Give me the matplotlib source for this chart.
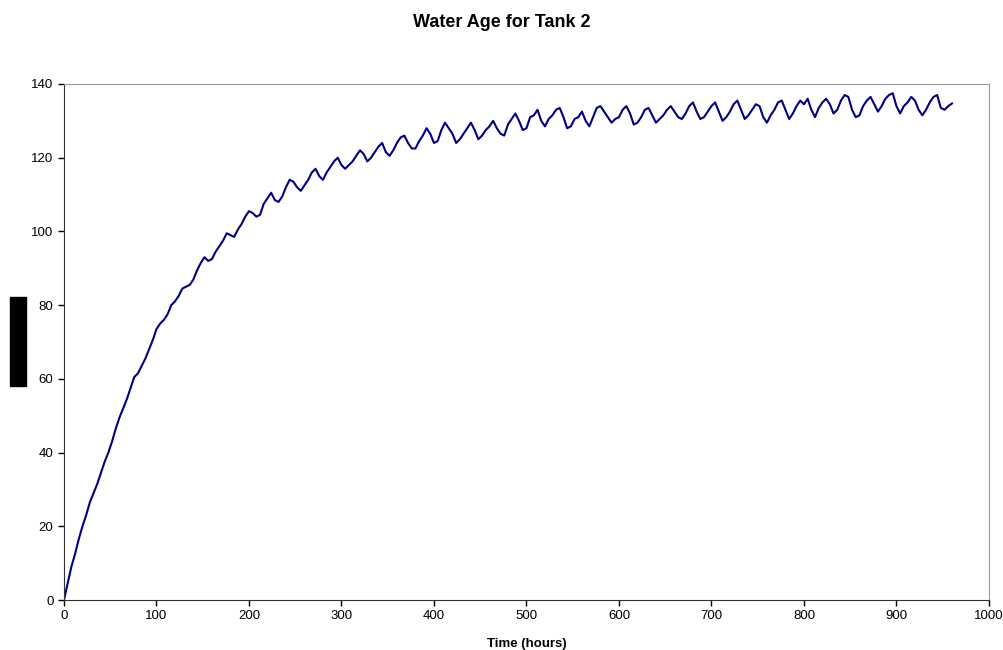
import numpy as np
import matplotlib.pyplot as plt
from matplotlib.patches import Rectangle

plt.rcParams['font.family'] = ['Liberation Sans', 'DejaVu Sans']

# water age every 4 hours, one row per day
hours = np.arange(0, 961, 4)
age = [
    0, 4.5, 9, 12.5, 16.5, 20,
    23, 26.5, 29, 31.5, 34.5, 37.5,
    40, 43, 46.5, 49.5, 52, 54.5,
    57.5, 60.5, 61.5, 63.5, 65.5, 68,
    70.5, 73.5, 75, 76, 77.5, 80,
    81, 82.5, 84.5, 85, 85.5, 87,
    89.5, 91.5, 93, 92, 92.5, 94.5,
    96, 97.5, 99.5, 99, 98.5, 100.5,
    102, 104, 105.5, 105, 104, 104.5,
    107.5, 109, 110.5, 108.5, 108, 109.5,
    112, 114, 113.5, 112, 111, 112.5,
    114, 116, 117, 115, 114, 116,
    117.5, 119, 120, 118, 117, 118,
    119, 120.5, 122, 121, 119, 120,
    121.5, 123, 124, 121.5, 120.5, 122,
    124, 125.5, 126, 124, 122.5, 122.5,
    124.5, 126, 128, 126.5, 124, 124.5,
    127.5, 129.5, 128, 126.5, 124, 125,
    126.5, 128, 129.5, 127.5, 125, 126,
    127.5, 128.5, 130, 128, 126.5, 126,
    129, 130.5, 132, 130, 127.5, 128,
    131, 131.5, 133, 130, 128.5, 130.5,
    131.5, 133, 133.5, 131, 128, 128.5,
    130.5, 131, 132.5, 130, 128.5, 131,
    133.5, 134, 132.5, 131, 129.5, 130.5,
    131, 133, 134, 132, 129, 129.5,
    131, 133, 133.5, 131.5, 129.5, 130.5,
    131.5, 133, 134, 132.5, 131, 130.5,
    132, 134, 135, 132.5, 130.5, 131,
    132.5, 134, 135, 132.5, 130, 131,
    132.5, 134.5, 135.5, 133, 130.5, 131.5,
    133, 134.5, 134, 131, 129.5, 131.5,
    133, 135, 135.5, 133, 130.5, 132,
    134, 135.5, 134.5, 136, 133, 131,
    133.5, 135, 136, 134.5, 132, 133,
    135.5, 137, 136.5, 133, 131, 131.5,
    134, 135.5, 136.5, 134.5, 132.5, 134,
    136, 137, 137.5, 134, 132, 134,
    135, 136.5, 135.5, 133, 131.5, 133,
    135, 136.5, 137, 133.5, 133, 134,
    134.7,
]

fig = plt.figure(figsize=(10.04, 6.5), dpi=100)
ax = fig.add_axes([0.0637, 0.0769, 0.9213, 0.7939])

ax.plot(hours, age, color='#000080', lw=1.5)

ax.set_xlim(0, 1000)
ax.set_ylim(0, 140)
ax.set_xticks(np.arange(0, 1001, 100))
ax.set_yticks(np.arange(0, 141, 20))
ax.tick_params(direction='out', length=4, width=1, labelsize=9.5, colors='black')
for side in ['left', 'bottom']:
    ax.spines[side].set_color('#333333')
for side in ['top', 'right']:
    ax.spines[side].set_color('#999999')

ax.set_xlabel('Time (hours)', fontsize=9.5, fontweight='bold', labelpad=11)
fig.suptitle('Water Age for Tank 2', fontsize=13, fontweight='bold', y=0.978)

# blacked-out y label
fig.patches.append(Rectangle((10 / 1004, 1 - 386 / 650), 16 / 1004, 89 / 650,
                             transform=fig.transFigure, color='black'))

fig.savefig('out.png', dpi=100)
